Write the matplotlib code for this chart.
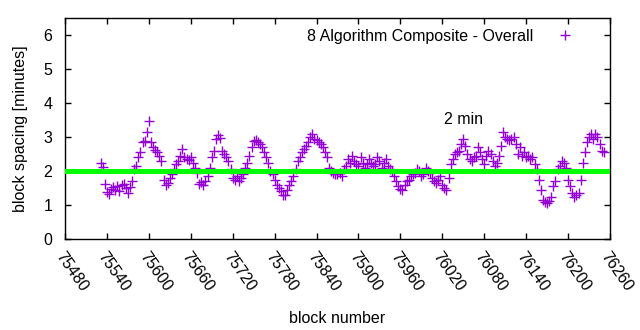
import numpy as np
import matplotlib
matplotlib.use('Agg')
import matplotlib.pyplot as plt

plt.rcParams['font.family'] = ['Liberation Sans', 'DejaVu Sans']

# block spacing, one value every 3 blocks from 75531
first_block = 75531
block_step = 3
spacing = [
    2.25, 2.12, 1.62, 1.38, 1.32, 1.48, 1.52, 1.45, 1.55, 1.40,
    1.58, 1.62, 1.50, 1.36, 1.52, 1.72, 2.05, 2.15, 2.40, 2.55,
    2.85, 2.88, 3.15, 3.48, 2.85, 2.70, 2.62, 2.55, 2.45, 2.30,
    1.75, 1.60, 1.65, 1.80, 1.90, 2.05, 2.20, 2.30, 2.45, 2.65,
    2.40, 2.35, 2.32, 2.40, 2.25, 2.10, 1.95, 1.62, 1.68, 1.58,
    1.70, 1.85, 2.10, 2.40, 2.60, 2.95, 3.05, 2.98, 2.60, 2.50,
    2.40, 2.30, 2.05, 1.80, 1.75, 1.85, 1.72, 1.78, 1.90, 2.10,
    2.25, 2.45, 2.70, 2.88, 2.92, 2.85, 2.80, 2.70, 2.55, 2.40,
    2.25, 2.00, 1.90, 1.75, 1.60, 1.50, 1.40, 1.30, 1.28, 1.45,
    1.60, 1.70, 1.85, 2.05, 2.30, 2.40, 2.55, 2.65, 2.75, 2.85,
    3.00, 3.10, 2.95, 2.90, 2.85, 2.80, 2.70, 2.55, 2.40, 2.10,
    2.00, 1.95, 1.92, 1.90, 1.95, 1.85, 2.05, 2.15, 2.35, 2.25,
    2.45, 2.30, 2.20, 2.15, 2.40, 2.25, 2.10, 2.20, 2.35, 2.25,
    2.15, 2.20, 2.40, 2.30, 2.10, 2.25, 2.35, 2.15, 2.05, 2.00,
    1.85, 1.70, 1.55, 1.48, 1.45, 1.58, 1.72, 1.75, 1.85, 1.90,
    1.95, 2.05, 2.00, 1.85, 1.90, 2.10, 2.00, 1.95, 1.80, 1.70,
    1.65, 1.75, 1.85, 1.60, 1.50, 1.45, 1.80, 2.20, 2.35, 2.50,
    2.55, 2.60, 2.80, 2.95, 2.75, 2.50, 2.35, 2.30, 2.40, 2.45,
    2.70, 2.55, 2.35, 2.20, 2.45, 2.60, 2.50, 2.30, 2.15, 2.25,
    2.45, 2.75, 3.15, 3.00, 2.95, 2.90, 2.95, 3.00, 2.80, 2.50,
    2.70, 2.45, 2.55, 2.40, 2.45, 2.35, 2.40, 2.20, 2.05, 1.75,
    1.45, 1.15, 1.08, 1.05, 1.12, 1.25, 1.55, 1.70, 2.05, 2.15,
    2.30, 2.25, 2.10, 1.75, 1.55, 1.35, 1.25, 1.30, 1.35, 1.75,
    2.25, 2.55, 2.85, 3.00, 3.10, 2.95, 3.10, 3.00, 2.80, 2.60,
    2.55,
]
blocks = first_block + block_step * np.arange(len(spacing))

target = 2.0
xticks = list(range(75480, 76261, 60))
yticks = [0, 1, 2, 3, 4, 5, 6]
fs = 11.5

fig = plt.figure(figsize=(6.4, 3.3), dpi=100)
ax = fig.add_axes([65 / 640, 1 - 239 / 330, 545 / 640, 221 / 330])

ax.axhline(target, color='#00ff00', lw=3.6, zorder=3)
ax.plot(blocks, spacing, linestyle='none', marker='+', ms=7, mew=1.0,
        color='#9400d3', label='8 Algorithm Composite - Overall', zorder=2)

ax.set_xlim(75480, 76260)
ax.set_ylim(0, 6.5)
ax.set_xticks(xticks)
ax.set_yticks(yticks)
ax.tick_params(direction='in', length=4, width=1, top=True, right=True,
               labelsize=fs, colors='black')
ax.tick_params(axis='y', pad=9)
ax.tick_params(axis='x', pad=7)
for lab in ax.get_xticklabels():
    lab.set_rotation(-55)
    lab.set_ha('left')
    lab.set_va('top')
    lab.set_rotation_mode('anchor')
for s in ax.spines.values():
    s.set_linewidth(1)

ax.set_xlabel('block number', fontsize=fs, labelpad=12)
ax.set_ylabel('block spacing [minutes]', fontsize=fs, labelpad=11)
ax.text(76022, 3.5, '2 min', fontsize=fs, ha='left', va='center')

ax.legend(loc='upper right', bbox_to_anchor=(581 / 640, 1 - 21 / 330),
          bbox_transform=fig.transFigure, frameon=False, markerfirst=False,
          numpoints=1, handlelength=1.0, handletextpad=1.5, borderpad=0,
          fontsize=fs)

fig.savefig('out.png', dpi=100)
